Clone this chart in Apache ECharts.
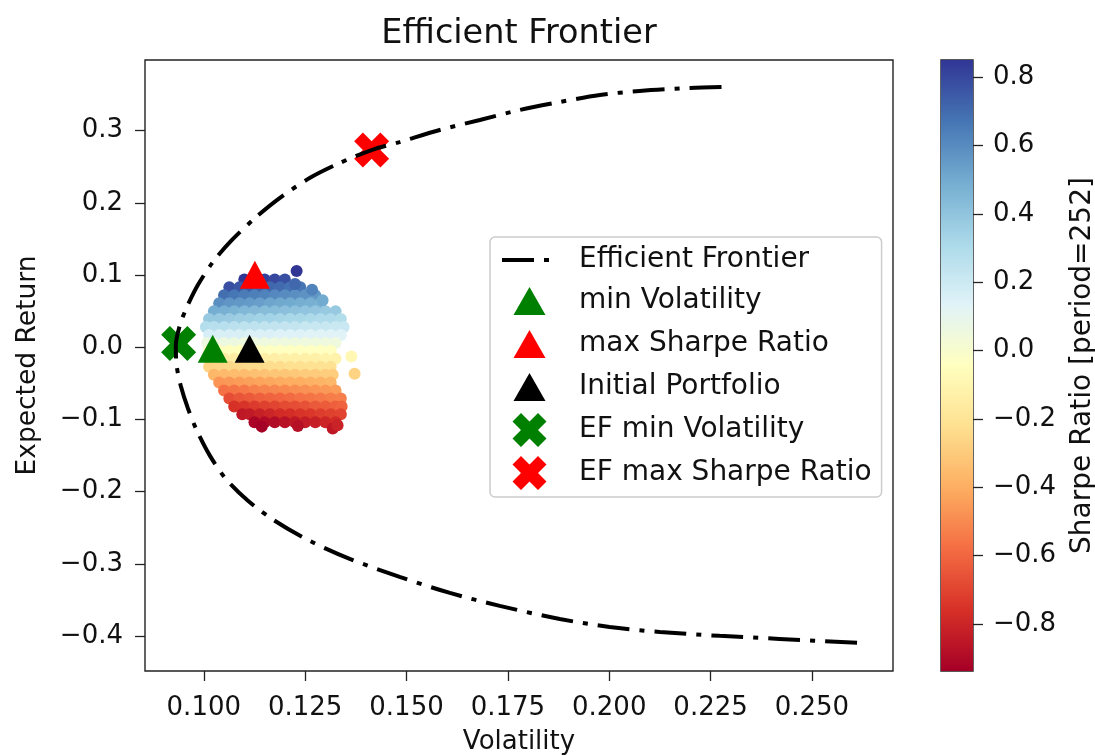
<!DOCTYPE html>
<html>
<head>
<meta charset="utf-8">
<script src="https://cdn.jsdelivr.net/npm/echarts@6/dist/echarts.min.js"></script>
<style>
  html, body { margin: 0; padding: 0; background: #ffffff; }
  #chart { width: 1095px; height: 756px; }
</style>
</head>
<body>
<div id="chart"></div>
<script>
// Efficient frontier: volatility / expected return, upper end to lower end
const frontierVol = [0.2277, 0.2199, 0.2075, 0.1977, 0.1878, 0.1779, 0.1681, 0.1582, 0.1483, 0.1414,
  0.1335, 0.1261, 0.1187, 0.1126, 0.1069, 0.1022, 0.0985, 0.0958, 0.0941, 0.0931,
  0.0933, 0.0943, 0.0961, 0.0983, 0.1015, 0.1054, 0.1109, 0.1175, 0.1261, 0.1360,
  0.1483, 0.1607, 0.1730, 0.1878, 0.2001, 0.2125, 0.2272, 0.2420, 0.2618];
const frontierRet = [0.3607, 0.3593, 0.3551, 0.3496, 0.3398, 0.3287, 0.3149, 0.3010, 0.2843, 0.2732,
  0.2552, 0.2344, 0.2066, 0.1788, 0.1483, 0.1177, 0.0858, 0.0552, 0.0303, 0.0025,
  -0.0252, -0.0530, -0.0849, -0.1155, -0.1502, -0.1821, -0.2127, -0.2404, -0.2682, -0.2932,
  -0.3182, -0.3404, -0.3584, -0.3765, -0.3876, -0.3945, -0.3999, -0.4041, -0.4097];

// Simulated portfolios, grouped by expected-return level
const cloudRet = [0.094, 0.083, 0.072, 0.061, 0.050, 0.039, 0.028, 0.017, 0.006, -0.005,
  -0.016, -0.027, -0.038, -0.049, -0.060, -0.071, -0.082, -0.093, -0.104];
const cloudVol = [
  [0.1100, 0.1125, 0.1150, 0.1175, 0.1200],
  [0.1063, 0.1088, 0.1113, 0.1138, 0.1163, 0.1188, 0.1213, 0.1238],
  [0.1050, 0.1075, 0.1100, 0.1125, 0.1150, 0.1175, 0.1200, 0.1225, 0.1250, 0.1275],
  [0.1038, 0.1063, 0.1088, 0.1113, 0.1138, 0.1163, 0.1188, 0.1213, 0.1238, 0.1263, 0.1288],
  [0.1025, 0.1050, 0.1075, 0.1100, 0.1125, 0.1150, 0.1175, 0.1200, 0.1225, 0.1250, 0.1275, 0.1300, 0.1325],
  [0.1013, 0.1038, 0.1063, 0.1088, 0.1113, 0.1138, 0.1163, 0.1188, 0.1213, 0.1238, 0.1263, 0.1288, 0.1313, 0.1338],
  [0.1005, 0.1025, 0.1050, 0.1075, 0.1100, 0.1125, 0.1150, 0.1175, 0.1200, 0.1225, 0.1250, 0.1275, 0.1300, 0.1325, 0.1345],
  [0.1013, 0.1038, 0.1063, 0.1088, 0.1113, 0.1138, 0.1163, 0.1188, 0.1213, 0.1238, 0.1263, 0.1288, 0.1313, 0.1338],
  [0.1008, 0.1025, 0.1050, 0.1075, 0.1100, 0.1125, 0.1150, 0.1175, 0.1200, 0.1225, 0.1250, 0.1275, 0.1300, 0.1325],
  [0.1013, 0.1038, 0.1063, 0.1088, 0.1113, 0.1138, 0.1163, 0.1188, 0.1213, 0.1238, 0.1263, 0.1288, 0.1313],
  [0.1025, 0.1050, 0.1075, 0.1100, 0.1125, 0.1150, 0.1175, 0.1200, 0.1225, 0.1250, 0.1275, 0.1300, 0.1325],
  [0.1013, 0.1038, 0.1063, 0.1088, 0.1113, 0.1138, 0.1163, 0.1188, 0.1213, 0.1238, 0.1263, 0.1288, 0.1313],
  [0.1025, 0.1050, 0.1075, 0.1100, 0.1125, 0.1150, 0.1175, 0.1200, 0.1225, 0.1250, 0.1275, 0.1300, 0.1318],
  [0.1038, 0.1063, 0.1088, 0.1113, 0.1138, 0.1163, 0.1188, 0.1213, 0.1238, 0.1263, 0.1288, 0.1313],
  [0.1050, 0.1075, 0.1100, 0.1125, 0.1150, 0.1175, 0.1200, 0.1225, 0.1250, 0.1275, 0.1300, 0.1325],
  [0.1063, 0.1088, 0.1113, 0.1138, 0.1163, 0.1188, 0.1213, 0.1238, 0.1263, 0.1288, 0.1313, 0.1338],
  [0.1075, 0.1100, 0.1125, 0.1150, 0.1175, 0.1200, 0.1225, 0.1250, 0.1275, 0.1300, 0.1325, 0.1340],
  [0.1095, 0.1113, 0.1138, 0.1163, 0.1188, 0.1213, 0.1238, 0.1263, 0.1288, 0.1313, 0.1338],
  [0.1125, 0.1150, 0.1175, 0.1200, 0.1225, 0.1250, 0.1275, 0.1300, 0.1325]
];
const cloudSharpe = [
  [0.85, 0.84, 0.82, 0.80, 0.78],
  [0.78, 0.76, 0.75, 0.73, 0.71, 0.70, 0.68, 0.67],
  [0.69, 0.67, 0.65, 0.64, 0.63, 0.61, 0.60, 0.59, 0.58, 0.56],
  [0.59, 0.57, 0.56, 0.55, 0.54, 0.52, 0.51, 0.50, 0.49, 0.48, 0.47],
  [0.49, 0.48, 0.47, 0.45, 0.44, 0.43, 0.43, 0.42, 0.41, 0.40, 0.39, 0.38, 0.38],
  [0.38, 0.38, 0.37, 0.36, 0.35, 0.34, 0.34, 0.33, 0.32, 0.32, 0.31, 0.30, 0.30, 0.29],
  [0.28, 0.27, 0.27, 0.26, 0.25, 0.25, 0.24, 0.24, 0.23, 0.23, 0.22, 0.22, 0.22, 0.21, 0.21],
  [0.17, 0.16, 0.16, 0.16, 0.15, 0.15, 0.15, 0.14, 0.14, 0.14, 0.13, 0.13, 0.13, 0.13],
  [0.06, 0.06, 0.06, 0.06, 0.05, 0.05, 0.05, 0.05, 0.05, 0.05, 0.05, 0.05, 0.05, 0.05],
  [-0.05, -0.05, -0.05, -0.05, -0.04, -0.04, -0.04, -0.04, -0.04, -0.04, -0.04, -0.04, -0.04],
  [-0.16, -0.15, -0.15, -0.15, -0.14, -0.14, -0.14, -0.13, -0.13, -0.13, -0.13, -0.12, -0.12],
  [-0.27, -0.26, -0.25, -0.25, -0.24, -0.24, -0.23, -0.23, -0.22, -0.22, -0.21, -0.21, -0.21],
  [-0.37, -0.36, -0.35, -0.35, -0.34, -0.33, -0.32, -0.32, -0.31, -0.30, -0.30, -0.29, -0.29],
  [-0.47, -0.46, -0.45, -0.44, -0.43, -0.42, -0.41, -0.40, -0.40, -0.39, -0.38, -0.37],
  [-0.57, -0.56, -0.55, -0.53, -0.52, -0.51, -0.50, -0.49, -0.48, -0.47, -0.46, -0.45],
  [-0.67, -0.65, -0.64, -0.62, -0.61, -0.60, -0.59, -0.57, -0.56, -0.55, -0.54, -0.53],
  [-0.76, -0.75, -0.73, -0.71, -0.70, -0.68, -0.67, -0.66, -0.64, -0.63, -0.62, -0.61],
  [-0.85, -0.84, -0.82, -0.80, -0.78, -0.77, -0.75, -0.74, -0.72, -0.71, -0.70],
  [-0.92, -0.90, -0.89, -0.87, -0.85, -0.83, -0.82, -0.80, -0.78]
];
// Scattered portfolios away from the main cluster
const strayVol = [0.1229, 0.1225, 0.1267, 0.1293, 0.1364, 0.1372, 0.1143, 0.1232, 0.1318, 0.1330];
const strayRet = [0.1057, 0.0875, 0.0798, 0.0650, -0.0127, -0.0368, -0.1100, -0.1090, -0.1125, -0.1080];
const straySharpe = [0.851, 0.71, 0.63, 0.50, -0.09, -0.27, -0.938, -0.88, -0.85, -0.81];

// Highlighted portfolios [volatility, expected return]
const minVolPoint = [0.1022, -0.0020];
const maxSharpePoint = [0.1126, 0.1005];
const initialPoint = [0.1113, -0.0020];
const efMinVolPoint = [0.0938, 0.0053];
const efMaxSharpePoint = [0.1414, 0.2732];

// Axis ticks
const xTicks = [0.100, 0.125, 0.150, 0.175, 0.200, 0.225, 0.250];
const yTicks = [-0.4, -0.3, -0.2, -0.1, 0.0, 0.1, 0.2, 0.3];
const cbTicks = [-0.8, -0.6, -0.4, -0.2, 0.0, 0.2, 0.4, 0.6, 0.8];
const sharpeMin = -0.938;
const sharpeMax = 0.851;

// RdYlBu colour map, low to high
const rdylbu = ['#a50026', '#d73027', '#f46d43', '#fdae61', '#fee090', '#ffffbf',
  '#e0f3f8', '#abd9e9', '#74add1', '#4575b4', '#313695'];

const FONT = 'DejaVu Sans';
// filled "X" marker for the plot
const xMarker = 'path://M1,0 L2,1 L3,0 L4,1 L3,2 L4,3 L3,4 L2,3 L1,4 L0,3 L1,2 L0,1 Z';
// legend icons drawn inside a 55 x 36 box (the two bare moves fix the box)
const legendTriangle = 'path://M0,0 M55,36 M27.5,4 L43.5,32 L11.5,32 Z';
const legendX = 'path://M0,0 M55,36 M19,1 L27.5,9.5 L36,1 L44.5,9.5 L36,18 L44.5,26.5 L36,35 L27.5,26.5 L19,35 L10.5,26.5 L19,18 L10.5,9.5 Z';
const minusFmt = d => v => (v < 0 ? '\u2212' : '') + Math.abs(v).toFixed(d);

const cloudData = [];
cloudRet.forEach((r, i) => {
  cloudVol[i].forEach((v, j) => cloudData.push([v, r, cloudSharpe[i][j]]));
});
strayVol.forEach((v, i) => cloudData.push([v, strayRet[i], straySharpe[i]]));

const frontierData = frontierVol.map((v, i) => [v, frontierRet[i]]);

const tickStyle = { color: '#222', width: 1.3 };
const labelStyle = { fontSize: 26, fontFamily: FONT, color: '#111' };

const chart = echarts.init(document.getElementById('chart'), null, { renderer: 'canvas' });
chart.setOption({
  animation: false,
  backgroundColor: '#ffffff',
  title: {
    text: 'Efficient Frontier',
    left: 519, top: 17, textAlign: 'center', padding: 0,
    textStyle: { fontSize: 33.5, fontWeight: 'normal', fontFamily: FONT, color: '#111' }
  },
  grid: [
    { left: 145, top: 60, width: 748, height: 611, outerBoundsMode: 'none', containLabel: false,
      show: true, borderColor: '#222', borderWidth: 1.4, backgroundColor: 'transparent' },
    { left: 941, top: 60, width: 32, height: 611, outerBoundsMode: 'none', containLabel: false,
      show: true, borderColor: '#222', borderWidth: 1.4, backgroundColor: 'transparent' }
  ],
  xAxis: [
    {
      gridIndex: 0, type: 'value', min: 0.0855, max: 0.270,
      axisLine: { show: false, onZero: false }, splitLine: { show: false },
      axisTick: { show: true, length: 10, lineStyle: tickStyle, customValues: xTicks },
      axisLabel: Object.assign({ customValues: xTicks, margin: 24, formatter: v => v.toFixed(3) }, labelStyle),
      name: 'Volatility', nameLocation: 'middle', nameGap: 58,
      nameTextStyle: { fontSize: 26, fontFamily: FONT, color: '#111' }
    },
    {
      gridIndex: 1, type: 'value', min: 0, max: 1, show: false
    }
  ],
  yAxis: [
    {
      gridIndex: 0, type: 'value', min: -0.4486, max: 0.398,
      axisLine: { show: false, onZero: false }, splitLine: { show: false },
      axisTick: { show: true, length: 10, lineStyle: tickStyle, customValues: yTicks },
      axisLabel: Object.assign({ customValues: yTicks, margin: 22, formatter: minusFmt(1) }, labelStyle),
      name: 'Expected Return', nameLocation: 'middle', nameGap: 103, nameRotate: 90,
      nameTextStyle: { fontSize: 26.5, fontFamily: FONT, color: '#111' }
    },
    {
      gridIndex: 1, type: 'value', position: 'right', min: sharpeMin, max: sharpeMax,
      axisLine: { show: false, onZero: false }, splitLine: { show: false },
      axisTick: { show: true, length: 10, lineStyle: tickStyle, customValues: cbTicks },
      axisLabel: Object.assign({ customValues: cbTicks, margin: 20, formatter: minusFmt(1) }, labelStyle),
      name: 'Sharpe Ratio [period=252]', nameLocation: 'middle', nameGap: 96, nameRotate: 90,
      nameTextStyle: { fontSize: 28, fontFamily: FONT, color: '#111' }
    }
  ],
  visualMap: {
    type: 'continuous', show: false, seriesIndex: 0, dimension: 2,
    min: sharpeMin, max: sharpeMax, inRange: { color: rdylbu }
  },
  legend: {
    orient: 'vertical', left: 490, top: 237,
    padding: [7, 10, 6, 10], itemGap: 7, itemWidth: 55, itemHeight: 36,
    backgroundColor: 'rgba(255,255,255,0.8)', borderColor: '#cccccc', borderWidth: 1.5, borderRadius: 5,
    textStyle: { fontSize: 28, fontFamily: FONT, color: '#111', lineHeight: 32, padding: [0, 0, 0, 17] },
    data: [
      { name: 'Efficient Frontier', itemStyle: { opacity: 0 }, lineStyle: { color: '#000', width: 4, type: [32, 10, 5, 10] } },
      { name: 'min Volatility', icon: legendTriangle },
      { name: 'max Sharpe Ratio', icon: legendTriangle },
      { name: 'Initial Portfolio', icon: legendTriangle },
      { name: 'EF min Volatility', icon: legendX },
      { name: 'EF max Sharpe Ratio', icon: legendX }
    ]
  },
  series: [
    {
      name: 'Portfolios', type: 'scatter', xAxisIndex: 0, yAxisIndex: 0,
      data: cloudData, symbolSize: 12, z: 2, silent: true,
      itemStyle: { opacity: 1 }
    },
    {
      name: 'min Volatility', type: 'scatter', data: [minVolPoint],
      symbol: 'triangle', symbolSize: [30, 28], itemStyle: { color: '#008000', opacity: 1 }, z: 3
    },
    {
      name: 'max Sharpe Ratio', type: 'scatter', data: [maxSharpePoint],
      symbol: 'triangle', symbolSize: [30, 28], itemStyle: { color: '#ff0000', opacity: 1 }, z: 3
    },
    {
      name: 'Initial Portfolio', type: 'scatter', data: [initialPoint],
      symbol: 'triangle', symbolSize: [30, 28], itemStyle: { color: '#000000', opacity: 1 }, z: 3
    },
    {
      name: 'EF min Volatility', type: 'scatter', data: [efMinVolPoint],
      symbol: xMarker, symbolSize: 35, itemStyle: { color: '#008000', opacity: 1 }, z: 4
    },
    {
      name: 'EF max Sharpe Ratio', type: 'scatter', data: [efMaxSharpePoint],
      symbol: xMarker, symbolSize: 35, itemStyle: { color: '#ff0000', opacity: 1 }, z: 4
    },
    {
      name: 'Efficient Frontier', type: 'line', data: frontierData, z: 5,
      symbol: 'none', smooth: 0.3, itemStyle: { color: '#000' },
      lineStyle: { color: '#000', width: 4, type: [32, 10, 5, 10] }
    },
    {
      name: 'Colour scale', type: 'custom', xAxisIndex: 1, yAxisIndex: 1, silent: true,
      data: [[0, sharpeMin, 1, sharpeMax]],
      encode: { x: [0, 2], y: [1, 3] },
      renderItem: function (params, api) {
        const p0 = api.coord([api.value(0), api.value(1)]);
        const p1 = api.coord([api.value(2), api.value(3)]);
        return {
          type: 'rect',
          shape: { x: p0[0], y: p1[1], width: p1[0] - p0[0], height: p0[1] - p1[1] },
          style: {
            fill: new echarts.graphic.LinearGradient(0, 1, 0, 0,
              rdylbu.map((c, i) => ({ offset: i / (rdylbu.length - 1), color: c })))
          }
        };
      }
    }
  ]
});
</script>
</body>
</html>
